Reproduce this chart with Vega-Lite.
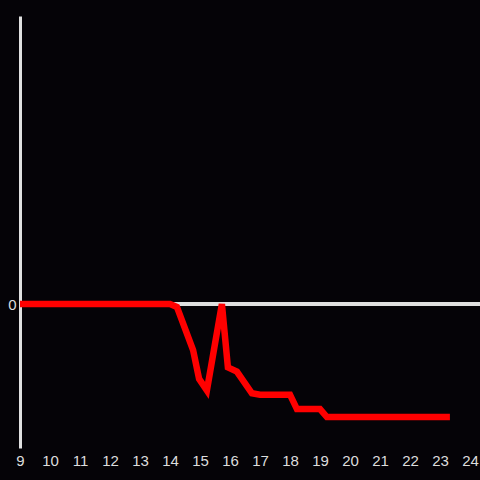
{
  "$schema": "https://vega.github.io/schema/vega-lite/v6.json",
  "autosize": "none",
  "width": 460,
  "height": 432,
  "padding": {"left": 20, "top": 16, "right": 0, "bottom": 32},
  "background": "#050307",
  "config": {
    "view": {"stroke": null},
    "axis": {"labelFont": "Liberation Sans", "labelFontSize": 15, "labelColor": "#dddddd", "grid": false, "ticks": false, "title": null}
  },
  "data": {
    "values": [
      {"x": 9, "y": 0},
      {"x": 14.0, "y": 0},
      {"x": 14.23, "y": -0.02},
      {"x": 14.77, "y": -0.32},
      {"x": 14.97, "y": -0.52},
      {"x": 15.23, "y": -0.6},
      {"x": 15.73, "y": 0},
      {"x": 15.93, "y": -0.44},
      {"x": 16.23, "y": -0.47},
      {"x": 16.73, "y": -0.62},
      {"x": 17.0, "y": -0.63},
      {"x": 18.0, "y": -0.63},
      {"x": 18.23, "y": -0.73},
      {"x": 19.0, "y": -0.73},
      {"x": 19.23, "y": -0.785},
      {"x": 23.33, "y": -0.785}
    ]
  },
  "layer": [
    {
      "mark": {"type": "rule", "color": "#e0e0e0", "strokeWidth": 3},
      "encoding": {"y": {"datum": 0, "type": "quantitative", "scale": {"domain": [-1, 2]}}}
    },
    {
      "mark": {"type": "line", "color": "#ff0000", "strokeWidth": 6.5, "strokeJoin": "miter"},
      "encoding": {
        "x": {
          "field": "x", "type": "quantitative",
          "scale": {"domain": [9, 24.3333], "nice": false, "zero": false},
          "axis": {"values": [9,10,11,12,13,14,15,16,17,18,19,20,21,22,23,24], "format": "d", "domain": false, "labelPadding": 5, "labelFlush": false}
        },
        "y": {
          "field": "y", "type": "quantitative",
          "scale": {"domain": [-1, 2], "nice": false, "zero": false},
          "axis": {"values": [0], "format": "d", "domain": true, "domainColor": "#e0e0e0", "domainWidth": 3, "labelPadding": 4}
        }
      }
    }
  ]
}
